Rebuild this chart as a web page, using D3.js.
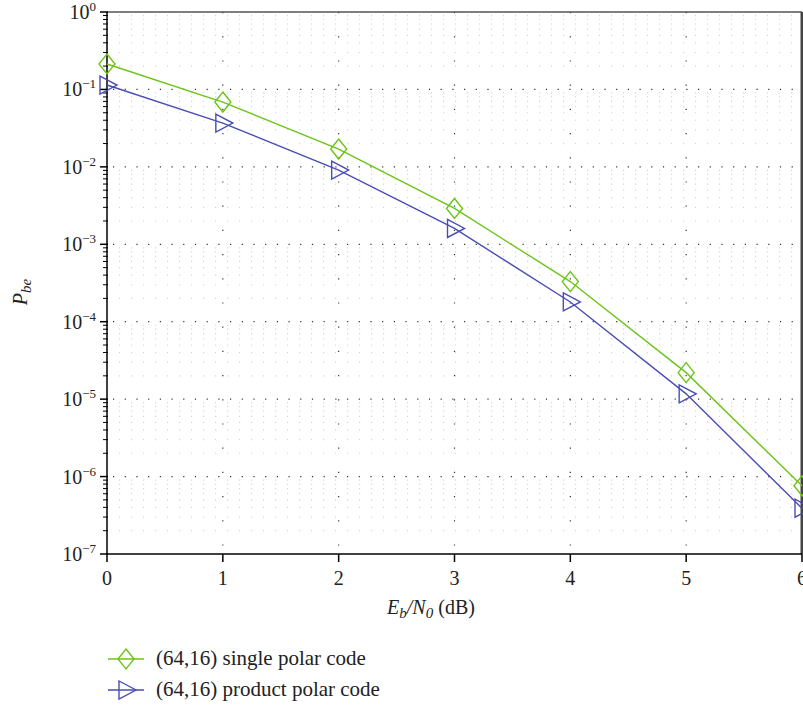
<!DOCTYPE html>
<html><head><meta charset="utf-8">
<script src="https://cdn.jsdelivr.net/npm/d3@7/dist/d3.min.js"></script>
<style>body{margin:0;background:#fff}svg{display:block}
text{font-family:"Liberation Serif","Times New Roman",serif}</style>
</head><body>
<script>
const snr = [0, 1, 2, 3, 4, 5, 6];
const singlePolar = [0.213, 0.0687, 0.017, 0.0029, 3.3e-4, 2.2e-5, 7.6e-7];
const productPolar = [0.114, 0.0368, 0.0091, 0.0016, 1.8e-4, 1.17e-5, 3.9e-7];
const seriesNames = ["(64,16) single polar code", "(64,16) product polar code"];
const xTicks = [0, 1, 2, 3, 4, 5, 6];
const yExponents = [0, -1, -2, -3, -4, -5, -6, -7];

const W = 803, H = 706;
const m = {l: 107, r: 1, t: 12, b: 152};
const svg = d3.select("body").append("svg").attr("width", W).attr("height", H);

const x = d3.scaleLinear().domain([0, 6]).range([m.l, W - m.r]);
const y = d3.scaleLog().domain([1e-7, 1]).range([H - m.b, m.t]);

const g = svg.append("g");
const minors = [];
for (let e = -7; e < 0; e++) for (let k = 2; k <= 9; k++) minors.push(k * Math.pow(10, e));
g.selectAll(".ming").data(minors).enter().append("line")
  .attr("x1", m.l + 12).attr("x2", W - m.r).attr("y1", d => y(d)).attr("y2", d => y(d))
  .attr("stroke", "#d4d4d4").attr("stroke-width", 1.2).attr("stroke-dasharray", "1.2,10.8");
g.selectAll(".majg").data(yExponents.slice(1, 7)).enter().append("line")
  .attr("x1", m.l + 6).attr("x2", W - m.r).attr("y1", d => y(Math.pow(10, d))).attr("y2", d => y(Math.pow(10, d)))
  .attr("stroke", "#333").attr("stroke-width", 1.2).attr("stroke-dasharray", "1.2,10.5");
g.selectAll(".vg").data(xTicks.slice(1, 6)).enter().append("line")
  .attr("x1", d => x(d)).attr("x2", d => x(d)).attr("y1", m.t).attr("y2", H - m.b)
  .attr("stroke", "#333").attr("stroke-width", 1.2).attr("stroke-dasharray", "1.2,23");

svg.append("line").attr("x1", m.l).attr("x2", W - m.r).attr("y1", m.t).attr("y2", m.t)
  .attr("stroke", "#555").attr("stroke-width", 1.5);
svg.append("line").attr("x1", W - m.r).attr("x2", W - m.r).attr("y1", m.t).attr("y2", H - m.b)
  .attr("stroke", "#444").attr("stroke-width", 3);

const ya = svg.append("g").attr("transform", `translate(${m.l},0)`);
ya.append("line").attr("y1", m.t).attr("y2", H - m.b).attr("stroke", "#000").attr("stroke-width", 1.5);
ya.selectAll(".mt").data(minors).enter().append("line")
  .attr("x1", -4).attr("x2", 1).attr("y1", d => y(d)).attr("y2", d => y(d)).attr("stroke", "#000").attr("stroke-width", 1);
ya.selectAll(".Mt").data(yExponents).enter().append("line")
  .attr("x1", -7).attr("x2", 1).attr("y1", d => y(Math.pow(10, d))).attr("y2", d => y(Math.pow(10, d))).attr("stroke", "#000").attr("stroke-width", 1.5);
const yl = ya.selectAll(".yl").data(yExponents).enter().append("text")
  .attr("x", -11).attr("y", d => y(Math.pow(10, d)) + 7).attr("text-anchor", "end")
  .attr("font-size", 20).attr("fill", "#222");
yl.append("tspan").text("10");
yl.append("tspan").attr("dy", -8).attr("font-size", 13).text(d => d === 0 ? "0" : "\u2212" + (-d));

const xa = svg.append("g").attr("transform", `translate(0,${H - m.b})`);
xa.append("line").attr("x1", m.l).attr("x2", W - m.r).attr("stroke", "#000").attr("stroke-width", 1.5);
xa.selectAll(".xt").data(xTicks).enter().append("line")
  .attr("x1", d => x(d)).attr("x2", d => x(d)).attr("y1", 0).attr("y2", 8).attr("stroke", "#000").attr("stroke-width", 1.5);
xa.selectAll(".xl").data(xTicks).enter().append("text")
  .attr("x", d => x(d)).attr("y", 31).attr("text-anchor", "middle")
  .attr("font-size", 20).attr("fill", "#222").text(d => d);

const xt = svg.append("text").attr("x", 431).attr("y", 614).attr("text-anchor", "middle")
  .attr("font-size", 20).attr("fill", "#222");
xt.append("tspan").attr("font-style", "italic").text("E");
xt.append("tspan").attr("font-style", "italic").attr("font-size", 15).attr("dy", 4).text("b");
xt.append("tspan").attr("font-style", "italic").attr("dy", -4).text("/N");
xt.append("tspan").attr("font-style", "italic").attr("font-size", 15).attr("dy", 4).text("0");
xt.append("tspan").attr("dy", -4).text(" (dB)");

const ytl = svg.append("text").attr("transform", "translate(27,292) rotate(-90)").attr("text-anchor", "middle")
  .attr("font-size", 20).attr("fill", "#222").attr("font-style", "italic");
ytl.append("tspan").text("P");
ytl.append("tspan").attr("font-size", 15).attr("dy", 4).text("be");

const colors = ["#6cc417", "#4a4db5"];
const data = [singlePolar, productPolar];
const line = d3.line().x((d, i) => x(snr[i])).y(d => y(d));
const diamond = (cx, cy) => `M${cx},${cy - 10}L${cx + 8},${cy}L${cx},${cy + 10}L${cx - 8},${cy}Z`;
const tri = (cx, cy) => `M${cx - 7},${cy - 9}L${cx + 10},${cy}L${cx - 7},${cy + 9}Z`;
const shapes = [diamond, tri];
data.forEach((s, k) => {
  svg.append("path").datum(s).attr("d", line).attr("fill", "none").attr("stroke", colors[k]).attr("stroke-width", 1.4);
  svg.selectAll(".mk" + k).data(s).enter().append("path")
    .attr("d", (d, i) => shapes[k](x(snr[i]), y(d)))
    .attr("fill", "none").attr("stroke", colors[k]).attr("stroke-width", 1.4);
});

const lg = svg.append("g");
seriesNames.forEach((n, k) => {
  const ly = 659 + k * 31;
  lg.append("line").attr("x1", 108).attr("x2", 144).attr("y1", ly).attr("y2", ly).attr("stroke", colors[k]).attr("stroke-width", 1.4);
  lg.append("path").attr("d", shapes[k](126, ly)).attr("fill", "none").attr("stroke", colors[k]).attr("stroke-width", 1.4);
  lg.append("text").attr("x", 156).attr("y", ly + 6).attr("font-size", 21).attr("fill", "#222").text(n);
});
</script>
</body></html>
